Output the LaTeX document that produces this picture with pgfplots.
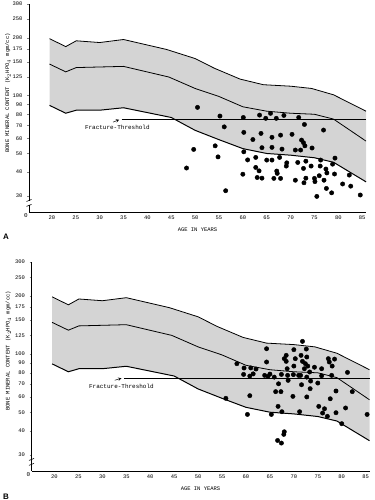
\documentclass[border=0pt]{standalone}
\usepackage{fontspec}
\setmainfont{Liberation Mono}
\setsansfont{Liberation Sans}
\usepackage{pgfplots}
\pgfplotsset{compat=1.18}
\definecolor{band}{gray}{0.83}
\begin{document}
\begin{tikzpicture}[x=1bp,y=1bp]
\path[use as bounding box] (0,0) rectangle (374,500);
% ---------------- Panel A ----------------
\begin{axis}[at={(29bp,288bp)}, anchor=south west, width=337bp, height=208bp,
  ymode=log, scale only axis, clip=false,
  xmin=15.2, xmax=85.8, ymin=24.8, ymax=300,
  axis x line*=bottom, axis y line*=left,
  axis line style={line width=0.8pt, -},
  ytick={30,40,50,60,70,80,90,100,125,150,175,200,250,300},
  yticklabels={30,40,50,60,70,80,90,100,125,150,175,200,250,300},
  yminorticks=false,
  xtick={20,25,...,85},
  xtick style={draw=none},
  ytick style={line width=0.6pt},
  tick align=outside, major tick length=2bp,
  /pgf/number format/assume math mode=true,
  tick label style={font=\fontsize{5.5}{6}\selectfont},
  yticklabel style={xshift=-1bp},
  xticklabel style={yshift=1.5bp}]
\addplot[fill=band, draw=none] coordinates {
 (19.5,198) (22.9,180) (25.1,193) (30,189) (35,196) (44,174) (50,156) (54,139) (59.4,122) (64.3,114) (70,112) (74.4,109) (79,101) (85.8,83)
 (85.8,35.6) (79,45) (75,47.5) (70,49) (65,50) (60,53) (55,59) (50,66) (45,77) (35,86.5) (30,84) (25.1,84) (22.9,81) (19.5,89)} --cycle;
\addplot[black, line width=0.8pt] coordinates {(19.5,198) (22.9,180) (25.1,193) (30,189) (35,196) (44,174) (50,156) (54,139) (59.4,122) (64.3,114) (70,112) (74.4,109) (79,101) (85.8,83)};
\addplot[black, line width=0.8pt] coordinates {(19.5,146) (22.9,133) (25.1,140) (35,142) (44.5,125) (50,109) (55,99) (60,87.5) (65,83) (70,81) (75,80) (79,75.5) (85.8,58)};
\addplot[black, line width=1pt] coordinates {(19.5,89) (22.9,81) (25.1,84) (30,84) (35,86.5) (45,77) (50,66) (55,59) (60,53) (65,50) (70,49) (75,47.5) (79,45) (85.8,35.6)};
\addplot[black, line width=0.7pt] coordinates {(34.6,75) (85.8,75)};
\draw[-stealth, line width=0.5pt] (axis cs:32.8,72.8) -- (axis cs:34.1,75);
\node[anchor=west, inner sep=0pt, font=\fontsize{6}{7}\selectfont] at (axis cs:26.9,68.6) {Fracture-Threshold};
\addplot[only marks, mark=*, mark size=2.2pt, black] coordinates {
(50.5,86.9)(49.7,52.5)(48.2,42)(55.2,78.3)(54.2,54.8)(54.8,48)(56.1,68.8)(56.4,32)(60.1,77)(60.2,64.4)(60.2,51)(60,39)(61,46.3)(62.1,59.1)(62.7,47.7)(62.7,42.3)(63,37.5)(63.5,79.2)(63.8,63.6)(64,53.6)(63.4,40.6)(64,37.2)(64.8,76.2)(65.8,80.9)(65,46.2)(66.1,46.2)(66.1,53.8)(66.1,60.7)(67,76.2)(66.5,37.1)(67.1,40.5)(67.2,39.4)(67.7,47.7)(67.9,37.1)(67.9,62.3)(68.2,52.7)(68.6,78.9)(69.1,43)(69.2,44.7)(70.3,62.9)(71,52.1)(71,36.3)(71.5,44.9)(71.7,77)(72.1,52.1)(72.3,58.7)(72.7,56.9)(72.9,70.8)(73,54.8)(73.2,45.6)(73.2,37.2)(72.8,35.2)(72.7,41.8)(74.3,43)(74.5,53.4)(75,37.1)(75.1,35.7)(75.5,29.9)(76,38.3)(76.2,43)(76.3,46.2)(76.9,66.2)(77,36.3)(77.4,41.5)(77.6,39.6)(77.5,32.9)(78.6,31.2)(78.8,44)(79.2,39.1)(79.3,47.3)(80.9,34.7)(82.3,38.6)(82.6,33.8)(84.6,30.4)};
\node[anchor=north east, inner sep=1pt, font=\fontsize{6}{7}\selectfont] at (rel axis cs:0,0) {0};
\node[rotate=90, font=\fontsize{5.5}{6}\selectfont] at ([xshift=-21bp]rel axis cs:0,0.572) {BONE MINERAL CONTENT (K$_2$HPO$_4$ mgm/cc)};
\node[font=\fontsize{5.5}{6}\selectfont] at ([yshift=-18bp]rel axis cs:0.5,0) {AGE IN YEARS};
\coordinate (brkA1) at (axis cs:15.2,27.0);
\coordinate (brkA2) at (axis cs:15.2,28.3);
\end{axis}
\fill[white] (brkA1) rectangle ([xshift=2bp]brkA2);
\draw[line width=0.6pt] ([xshift=-2.5bp,yshift=-1.5bp]brkA1) -- ([xshift=2.5bp,yshift=0.5bp]brkA1);
\draw[line width=0.6pt] ([xshift=-2.5bp,yshift=-0.5bp]brkA2) -- ([xshift=2.5bp,yshift=1.5bp]brkA2);
\node[font=\sffamily\bfseries\fontsize{8}{9}\selectfont] at (6,263) {A};
% ---------------- Panel B ----------------
\begin{axis}[at={(31.5bp,29bp)}, anchor=south west, width=338bp, height=209bp,
  ymode=log, scale only axis, clip=false,
  xmin=15.2, xmax=85.8, ymin=24.8, ymax=300,
  axis x line*=bottom, axis y line*=left,
  axis line style={line width=0.8pt, -},
  ytick={30,40,50,60,70,80,90,100,125,150,175,200,250,300},
  yticklabels={30,40,50,60,70,80,90,100,125,150,175,200,250,300},
  yminorticks=false,
  xtick={20,25,...,85},
  xtick style={draw=none},
  ytick style={line width=0.6pt},
  tick align=outside, major tick length=2bp,
  /pgf/number format/assume math mode=true,
  tick label style={font=\fontsize{5.5}{6}\selectfont},
  yticklabel style={xshift=-1bp},
  xticklabel style={yshift=1.5bp}]
\addplot[fill=band, draw=none] coordinates {
 (19.5,198) (22.9,180) (25.1,193) (30,189) (35,196) (44,174) (50,156) (54,139) (59.4,122) (64.3,114) (70,112) (74.4,109) (79,101) (85.8,83)
 (85.8,35.6) (79,45) (75,47.5) (70,49) (65,50) (60,53) (55,59) (50,66) (45,77) (35,86.5) (30,84) (25.1,84) (22.9,81) (19.5,89)} --cycle;
\addplot[black, line width=0.8pt] coordinates {(19.5,198) (22.9,180) (25.1,193) (30,189) (35,196) (44,174) (50,156) (54,139) (59.4,122) (64.3,114) (70,112) (74.4,109) (79,101) (85.8,83)};
\addplot[black, line width=0.8pt] coordinates {(19.5,146) (22.9,133) (25.1,140) (35,142) (44.5,125) (50,109) (55,99) (60,87.5) (65,83) (70,81) (75,80) (79,75.5) (85.8,58)};
\addplot[black, line width=1pt] coordinates {(19.5,89) (22.9,81) (25.1,84) (30,84) (35,86.5) (45,77) (50,66) (55,59) (60,53) (65,50) (70,49) (75,47.5) (79,45) (85.8,35.6)};
\addplot[black, line width=0.7pt] coordinates {(34.5,75) (85.8,75)};
\draw[-stealth, line width=0.5pt] (axis cs:32.6,73.2) -- (axis cs:34.0,75);
\node[anchor=west, inner sep=0pt, font=\fontsize{6}{7}\selectfont] at (axis cs:27.2,68.1) {Fracture-Threshold};
\addplot[only marks, mark=*, mark size=2.2pt, black] coordinates {
(55.8,59)(58.1,89.2)(59.6,84.7)(59.5,78.5)(60.3,48.7)(60.8,60.9)(61,84.8)(60.8,77)(61.5,79)(62.1,83.7)(64.3,106.6)(64.3,91)(63.9,77.6)(64.6,76.7)(65,78.8)(65.3,48.7)(65.9,76)(66.2,63.9)(66.8,70.2)(66.7,53.6)(66.6,35.7)(67.3,63.9)(67.4,78.5)(67.4,34.6)(67.5,50.3)(67.9,38.4)(68,39.6)(68,94.7)(68.4,98.5)(68.4,91.7)(68.6,84)(68.7,77.6)(68.8,73.1)(70,105.4)(69.8,60.4)(70,86.7)(69.9,78.3)(70.3,94.7)(71,77.6)(71.2,50.3)(71.4,77.6)(71.5,98.5)(71.6,69.4)(71.8,116.4)(71.8,91.7)(72.2,84)(72.4,89.2)(72.6,106.2)(72.7,96.6)(72.7,76)(72.7,60)(72.9,86.7)(73.3,80.8)(73.5,72.5)(73.4,66.2)(74.3,85.5)(75,70.8)(75.2,53.6)(75.8,84)(75.8,77.2)(76,49.5)(76.4,52.1)(77,47.6)(77.2,94.7)(77.4,91)(77.6,58.7)(78,86.7)(77.9,77.6)(78.5,94.2)(78.8,64.4)(78.8,49.7)(80,43.6)(80.8,52.6)(81.2,80.4)(82.2,63.9)(85.3,48.7)};
\node[anchor=north east, inner sep=1pt, font=\fontsize{6}{7}\selectfont] at (rel axis cs:0,0) {0};
\node[rotate=90, font=\fontsize{5.5}{6}\selectfont] at ([xshift=-23bp]rel axis cs:0,0.575) {BONE MINERAL CONTENT (K$_2$HPO$_4$ mgm/cc)};
\node[font=\fontsize{5.5}{6}\selectfont] at ([yshift=-18bp]rel axis cs:0.5,0) {AGE IN YEARS};
\coordinate (brkB1) at (axis cs:15.2,27.0);
\coordinate (brkB2) at (axis cs:15.2,28.3);
\end{axis}
\fill[white] (brkB1) rectangle ([xshift=2bp]brkB2);
\draw[line width=0.6pt] ([xshift=-2.5bp,yshift=-1.5bp]brkB1) -- ([xshift=2.5bp,yshift=0.5bp]brkB1);
\draw[line width=0.6pt] ([xshift=-2.5bp,yshift=-0.5bp]brkB2) -- ([xshift=2.5bp,yshift=1.5bp]brkB2);
\node[font=\sffamily\bfseries\fontsize{8}{9}\selectfont] at (6,3.5) {B};
\end{tikzpicture}
\end{document}
